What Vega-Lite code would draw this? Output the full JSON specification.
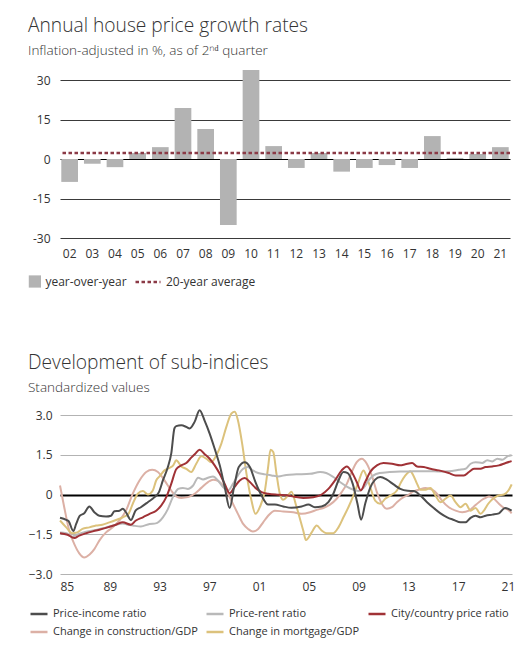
{
  "$schema": "https://vega.github.io/schema/vega-lite/v6.json",
  "background": "white",
  "padding": {"left": 28, "top": 17, "right": 5, "bottom": 5},
  "config": {
    "font": "Open Sans",
    "view": {"stroke": null},
    "axis": {"labelFont": "Open Sans", "labelFontSize": 12, "labelColor": "#333333", "domain": false, "ticks": false, "title": null},
    "legend": {"labelFont": "Open Sans", "labelFontSize": 12, "labelColor": "#333333", "padding": 0},
    "title": {"anchor": "start", "frame": "group", "font": "Open Sans", "fontSize": 19.2, "fontWeight": 300, "color": "#333333", "subtitleFont": "Open Sans", "subtitleFontSize": 13.5, "subtitleFontWeight": 300, "subtitleColor": "#333333", "subtitlePadding": 8, "dx": -32, "offset": 12}
  },
  "datasets": {
    "growth": [
      {"yr": "02", "growth": -8.7, "kind": "year-over-year"},
      {"yr": "03", "growth": -1.8, "kind": "year-over-year"},
      {"yr": "04", "growth": -3.1, "kind": "year-over-year"},
      {"yr": "05", "growth": 2.3, "kind": "year-over-year"},
      {"yr": "06", "growth": 4.5, "kind": "year-over-year"},
      {"yr": "07", "growth": 19.4, "kind": "year-over-year"},
      {"yr": "08", "growth": 11.4, "kind": "year-over-year"},
      {"yr": "09", "growth": -25.1, "kind": "year-over-year"},
      {"yr": "10", "growth": 33.8, "kind": "year-over-year"},
      {"yr": "11", "growth": 4.9, "kind": "year-over-year"},
      {"yr": "12", "growth": -3.4, "kind": "year-over-year"},
      {"yr": "13", "growth": 2.3, "kind": "year-over-year"},
      {"yr": "14", "growth": -4.8, "kind": "year-over-year"},
      {"yr": "15", "growth": -3.4, "kind": "year-over-year"},
      {"yr": "16", "growth": -2.3, "kind": "year-over-year"},
      {"yr": "17", "growth": -3.4, "kind": "year-over-year"},
      {"yr": "18", "growth": 8.7, "kind": "year-over-year"},
      {"yr": "19", "growth": 0.4, "kind": "year-over-year"},
      {"yr": "20", "growth": 1.9, "kind": "year-over-year"},
      {"yr": "21", "growth": 4.5, "kind": "year-over-year"}
    ],
    "avg": [{"kind": "20-year average", "average": 2.3}],
    "subindices": [
      {"series": "Change in construction/GDP", "year": 1985.0, "value": 0.34},
      {"series": "Change in construction/GDP", "year": 1985.34, "value": -0.48},
      {"series": "Change in construction/GDP", "year": 1985.74, "value": -1.36},
      {"series": "Change in construction/GDP", "year": 1986.15, "value": -1.87},
      {"series": "Change in construction/GDP", "year": 1986.55, "value": -2.22},
      {"series": "Change in construction/GDP", "year": 1986.95, "value": -2.38},
      {"series": "Change in construction/GDP", "year": 1987.36, "value": -2.27},
      {"series": "Change in construction/GDP", "year": 1987.76, "value": -2.06},
      {"series": "Change in construction/GDP", "year": 1988.16, "value": -1.74},
      {"series": "Change in construction/GDP", "year": 1988.7, "value": -1.43},
      {"series": "Change in construction/GDP", "year": 1989.24, "value": -1.24},
      {"series": "Change in construction/GDP", "year": 1989.78, "value": -0.98},
      {"series": "Change in construction/GDP", "year": 1990.3, "value": -0.61},
      {"series": "Change in construction/GDP", "year": 1990.85, "value": 0.03},
      {"series": "Change in construction/GDP", "year": 1991.39, "value": 0.53},
      {"series": "Change in construction/GDP", "year": 1991.93, "value": 0.85},
      {"series": "Change in construction/GDP", "year": 1992.41, "value": 0.93},
      {"series": "Change in construction/GDP", "year": 1992.87, "value": 0.85},
      {"series": "Change in construction/GDP", "year": 1993.4, "value": 0.53},
      {"series": "Change in construction/GDP", "year": 1993.94, "value": 0.15},
      {"series": "Change in construction/GDP", "year": 1994.3, "value": -0.06},
      {"series": "Change in construction/GDP", "year": 1994.75, "value": -0.13},
      {"series": "Change in construction/GDP", "year": 1995.28, "value": -0.1},
      {"series": "Change in construction/GDP", "year": 1995.82, "value": 0.03},
      {"series": "Change in construction/GDP", "year": 1996.36, "value": 0.25},
      {"series": "Change in construction/GDP", "year": 1996.9, "value": 0.47},
      {"series": "Change in construction/GDP", "year": 1997.3, "value": 0.56},
      {"series": "Change in construction/GDP", "year": 1997.7, "value": 0.51},
      {"series": "Change in construction/GDP", "year": 1998.1, "value": 0.34},
      {"series": "Change in construction/GDP", "year": 1998.5, "value": 0.03},
      {"series": "Change in construction/GDP", "year": 1998.9, "value": -0.35},
      {"series": "Change in construction/GDP", "year": 1999.3, "value": -0.73},
      {"series": "Change in construction/GDP", "year": 1999.72, "value": -1.11},
      {"series": "Change in construction/GDP", "year": 2000.12, "value": -1.3},
      {"series": "Change in construction/GDP", "year": 2000.5, "value": -1.4},
      {"series": "Change in construction/GDP", "year": 2000.93, "value": -1.3},
      {"series": "Change in construction/GDP", "year": 2001.33, "value": -1.05},
      {"series": "Change in construction/GDP", "year": 2001.73, "value": -0.8},
      {"series": "Change in construction/GDP", "year": 2002.27, "value": -0.61},
      {"series": "Change in construction/GDP", "year": 2002.94, "value": -0.64},
      {"series": "Change in construction/GDP", "year": 2003.75, "value": -0.67},
      {"series": "Change in construction/GDP", "year": 2004.42, "value": -0.73},
      {"series": "Change in construction/GDP", "year": 2005.1, "value": -0.67},
      {"series": "Change in construction/GDP", "year": 2005.63, "value": -0.58},
      {"series": "Change in construction/GDP", "year": 2006.17, "value": -0.51},
      {"series": "Change in construction/GDP", "year": 2006.7, "value": -0.38},
      {"series": "Change in construction/GDP", "year": 2007.24, "value": -0.16},
      {"series": "Change in construction/GDP", "year": 2007.64, "value": 0.09},
      {"series": "Change in construction/GDP", "year": 2008.05, "value": 0.4},
      {"series": "Change in construction/GDP", "year": 2008.45, "value": 0.85},
      {"series": "Change in construction/GDP", "year": 2008.85, "value": 1.22},
      {"series": "Change in construction/GDP", "year": 2009.26, "value": 1.35},
      {"series": "Change in construction/GDP", "year": 2009.66, "value": 1.16},
      {"series": "Change in construction/GDP", "year": 2010.06, "value": 0.72},
      {"series": "Change in construction/GDP", "year": 2010.47, "value": 0.09},
      {"series": "Change in construction/GDP", "year": 2010.87, "value": -0.35},
      {"series": "Change in construction/GDP", "year": 2011.27, "value": -0.54},
      {"series": "Change in construction/GDP", "year": 2011.68, "value": -0.48},
      {"series": "Change in construction/GDP", "year": 2012.08, "value": -0.29},
      {"series": "Change in construction/GDP", "year": 2012.62, "value": -0.1},
      {"series": "Change in construction/GDP", "year": 2013.0, "value": -0.02},
      {"series": "Change in construction/GDP", "year": 2013.3, "value": 0.09},
      {"series": "Change in construction/GDP", "year": 2013.83, "value": 0.18},
      {"series": "Change in construction/GDP", "year": 2014.37, "value": 0.25},
      {"series": "Change in construction/GDP", "year": 2014.9, "value": 0.18},
      {"series": "Change in construction/GDP", "year": 2015.3, "value": 0.03},
      {"series": "Change in construction/GDP", "year": 2015.7, "value": -0.23},
      {"series": "Change in construction/GDP", "year": 2016.25, "value": -0.48},
      {"series": "Change in construction/GDP", "year": 2016.8, "value": -0.61},
      {"series": "Change in construction/GDP", "year": 2017.33, "value": -0.67},
      {"series": "Change in construction/GDP", "year": 2017.87, "value": -0.61},
      {"series": "Change in construction/GDP", "year": 2018.27, "value": -0.45},
      {"series": "Change in construction/GDP", "year": 2018.67, "value": -0.29},
      {"series": "Change in construction/GDP", "year": 2019.07, "value": -0.16},
      {"series": "Change in construction/GDP", "year": 2019.48, "value": -0.08},
      {"series": "Change in construction/GDP", "year": 2019.88, "value": -0.16},
      {"series": "Change in construction/GDP", "year": 2020.28, "value": -0.35},
      {"series": "Change in construction/GDP", "year": 2020.69, "value": -0.51},
      {"series": "Change in construction/GDP", "year": 2021.04, "value": -0.58},
      {"series": "Change in construction/GDP", "year": 2021.3, "value": -0.71},

      {"series": "Change in mortgage/GDP", "year": 1985.0, "value": -0.98},
      {"series": "Change in mortgage/GDP", "year": 1985.5, "value": -1.24},
      {"series": "Change in mortgage/GDP", "year": 1986.0, "value": -1.46},
      {"series": "Change in mortgage/GDP", "year": 1986.4, "value": -1.43},
      {"series": "Change in mortgage/GDP", "year": 1986.8, "value": -1.3},
      {"series": "Change in mortgage/GDP", "year": 1987.36, "value": -1.24},
      {"series": "Change in mortgage/GDP", "year": 1987.9, "value": -1.17},
      {"series": "Change in mortgage/GDP", "year": 1988.4, "value": -1.14},
      {"series": "Change in mortgage/GDP", "year": 1988.97, "value": -1.05},
      {"series": "Change in mortgage/GDP", "year": 1989.5, "value": -0.96},
      {"series": "Change in mortgage/GDP", "year": 1990.05, "value": -0.86},
      {"series": "Change in mortgage/GDP", "year": 1990.5, "value": -0.73},
      {"series": "Change in mortgage/GDP", "year": 1990.85, "value": -0.35},
      {"series": "Change in mortgage/GDP", "year": 1991.25, "value": 0.03},
      {"series": "Change in mortgage/GDP", "year": 1991.66, "value": 0.13},
      {"series": "Change in mortgage/GDP", "year": 1992.06, "value": 0.0},
      {"series": "Change in mortgage/GDP", "year": 1992.46, "value": 0.15},
      {"series": "Change in mortgage/GDP", "year": 1992.73, "value": 0.53},
      {"series": "Change in mortgage/GDP", "year": 1993.0, "value": 0.68},
      {"series": "Change in mortgage/GDP", "year": 1993.4, "value": 0.91},
      {"series": "Change in mortgage/GDP", "year": 1993.8, "value": 1.0},
      {"series": "Change in mortgage/GDP", "year": 1994.1, "value": 1.1},
      {"series": "Change in mortgage/GDP", "year": 1994.34, "value": 1.29},
      {"series": "Change in mortgage/GDP", "year": 1994.75, "value": 1.06},
      {"series": "Change in mortgage/GDP", "year": 1995.15, "value": 0.97},
      {"series": "Change in mortgage/GDP", "year": 1995.55, "value": 0.85},
      {"series": "Change in mortgage/GDP", "year": 1995.95, "value": 1.16},
      {"series": "Change in mortgage/GDP", "year": 1996.36, "value": 1.44},
      {"series": "Change in mortgage/GDP", "year": 1996.76, "value": 1.35},
      {"series": "Change in mortgage/GDP", "year": 1997.16, "value": 1.22},
      {"series": "Change in mortgage/GDP", "year": 1997.57, "value": 1.48},
      {"series": "Change in mortgage/GDP", "year": 1997.97, "value": 1.92},
      {"series": "Change in mortgage/GDP", "year": 1998.37, "value": 2.55},
      {"series": "Change in mortgage/GDP", "year": 1998.78, "value": 3.06},
      {"series": "Change in mortgage/GDP", "year": 1999.05, "value": 3.12},
      {"series": "Change in mortgage/GDP", "year": 1999.3, "value": 2.8},
      {"series": "Change in mortgage/GDP", "year": 1999.64, "value": 1.92},
      {"series": "Change in mortgage/GDP", "year": 1999.99, "value": 0.78},
      {"series": "Change in mortgage/GDP", "year": 2000.39, "value": -0.23},
      {"series": "Change in mortgage/GDP", "year": 2000.71, "value": -0.73},
      {"series": "Change in mortgage/GDP", "year": 2001.06, "value": -0.48},
      {"series": "Change in mortgage/GDP", "year": 2001.47, "value": 0.15},
      {"series": "Change in mortgage/GDP", "year": 2001.73, "value": 1.04},
      {"series": "Change in mortgage/GDP", "year": 2001.92, "value": 1.69},
      {"series": "Change in mortgage/GDP", "year": 2002.14, "value": 1.6},
      {"series": "Change in mortgage/GDP", "year": 2002.4, "value": 0.78},
      {"series": "Change in mortgage/GDP", "year": 2002.67, "value": 0.03},
      {"series": "Change in mortgage/GDP", "year": 2002.94, "value": -0.2},
      {"series": "Change in mortgage/GDP", "year": 2003.3, "value": -0.05},
      {"series": "Change in mortgage/GDP", "year": 2003.6, "value": 0.1},
      {"series": "Change in mortgage/GDP", "year": 2004.0, "value": -0.45},
      {"series": "Change in mortgage/GDP", "year": 2004.55, "value": -1.36},
      {"series": "Change in mortgage/GDP", "year": 2004.77, "value": -1.72},
      {"series": "Change in mortgage/GDP", "year": 2005.23, "value": -1.43},
      {"series": "Change in mortgage/GDP", "year": 2005.63, "value": -1.17},
      {"series": "Change in mortgage/GDP", "year": 2006.03, "value": -1.36},
      {"series": "Change in mortgage/GDP", "year": 2006.43, "value": -1.46},
      {"series": "Change in mortgage/GDP", "year": 2006.97, "value": -1.46},
      {"series": "Change in mortgage/GDP", "year": 2007.38, "value": -1.24},
      {"series": "Change in mortgage/GDP", "year": 2007.78, "value": -0.86},
      {"series": "Change in mortgage/GDP", "year": 2008.18, "value": -0.48},
      {"series": "Change in mortgage/GDP", "year": 2008.58, "value": -0.04},
      {"series": "Change in mortgage/GDP", "year": 2008.99, "value": 0.47},
      {"series": "Change in mortgage/GDP", "year": 2009.39, "value": 0.91},
      {"series": "Change in mortgage/GDP", "year": 2009.66, "value": 0.66},
      {"series": "Change in mortgage/GDP", "year": 2009.98, "value": 0.21},
      {"series": "Change in mortgage/GDP", "year": 2010.33, "value": -0.23},
      {"series": "Change in mortgage/GDP", "year": 2010.74, "value": -0.35},
      {"series": "Change in mortgage/GDP", "year": 2011.14, "value": -0.16},
      {"series": "Change in mortgage/GDP", "year": 2011.54, "value": -0.04},
      {"series": "Change in mortgage/GDP", "year": 2012.08, "value": 0.15},
      {"series": "Change in mortgage/GDP", "year": 2012.4, "value": 0.45},
      {"series": "Change in mortgage/GDP", "year": 2012.76, "value": 0.72},
      {"series": "Change in mortgage/GDP", "year": 2013.16, "value": 0.88},
      {"series": "Change in mortgage/GDP", "year": 2013.4, "value": 0.72},
      {"series": "Change in mortgage/GDP", "year": 2013.7, "value": 0.4},
      {"series": "Change in mortgage/GDP", "year": 2013.97, "value": 0.18},
      {"series": "Change in mortgage/GDP", "year": 2014.37, "value": 0.18},
      {"series": "Change in mortgage/GDP", "year": 2014.77, "value": 0.25},
      {"series": "Change in mortgage/GDP", "year": 2015.18, "value": -0.04},
      {"series": "Change in mortgage/GDP", "year": 2015.58, "value": -0.29},
      {"series": "Change in mortgage/GDP", "year": 2015.98, "value": -0.16},
      {"series": "Change in mortgage/GDP", "year": 2016.39, "value": -0.04},
      {"series": "Change in mortgage/GDP", "year": 2016.79, "value": -0.29},
      {"series": "Change in mortgage/GDP", "year": 2017.19, "value": -0.48},
      {"series": "Change in mortgage/GDP", "year": 2017.6, "value": -0.35},
      {"series": "Change in mortgage/GDP", "year": 2018.0, "value": -0.61},
      {"series": "Change in mortgage/GDP", "year": 2018.4, "value": -0.51},
      {"series": "Change in mortgage/GDP", "year": 2018.8, "value": -0.73},
      {"series": "Change in mortgage/GDP", "year": 2019.07, "value": -0.61},
      {"series": "Change in mortgage/GDP", "year": 2019.42, "value": -0.35},
      {"series": "Change in mortgage/GDP", "year": 2019.8, "value": -0.16},
      {"series": "Change in mortgage/GDP", "year": 2020.23, "value": -0.04},
      {"series": "Change in mortgage/GDP", "year": 2020.69, "value": 0.0},
      {"series": "Change in mortgage/GDP", "year": 2021.04, "value": 0.15},
      {"series": "Change in mortgage/GDP", "year": 2021.3, "value": 0.38},

      {"series": "Price-rent ratio", "year": 1985.0, "value": -1.43},
      {"series": "Price-rent ratio", "year": 1985.5, "value": -1.46},
      {"series": "Price-rent ratio", "year": 1986.0, "value": -1.59},
      {"series": "Price-rent ratio", "year": 1986.3, "value": -1.53},
      {"series": "Price-rent ratio", "year": 1987.1, "value": -1.4},
      {"series": "Price-rent ratio", "year": 1987.9, "value": -1.34},
      {"series": "Price-rent ratio", "year": 1988.7, "value": -1.24},
      {"series": "Price-rent ratio", "year": 1989.5, "value": -1.14},
      {"series": "Price-rent ratio", "year": 1990.05, "value": -1.09},
      {"series": "Price-rent ratio", "year": 1990.45, "value": -1.14},
      {"series": "Price-rent ratio", "year": 1990.85, "value": -1.17},
      {"series": "Price-rent ratio", "year": 1991.5, "value": -1.21},
      {"series": "Price-rent ratio", "year": 1992.2, "value": -1.11},
      {"series": "Price-rent ratio", "year": 1992.7, "value": -1.09},
      {"series": "Price-rent ratio", "year": 1993.27, "value": -0.86},
      {"series": "Price-rent ratio", "year": 1993.67, "value": -0.55},
      {"series": "Price-rent ratio", "year": 1994.07, "value": -0.1},
      {"series": "Price-rent ratio", "year": 1994.5, "value": 0.21},
      {"series": "Price-rent ratio", "year": 1994.88, "value": 0.25},
      {"series": "Price-rent ratio", "year": 1995.28, "value": 0.21},
      {"series": "Price-rent ratio", "year": 1995.7, "value": 0.34},
      {"series": "Price-rent ratio", "year": 1996.1, "value": 0.63},
      {"series": "Price-rent ratio", "year": 1996.5, "value": 0.57},
      {"series": "Price-rent ratio", "year": 1996.9, "value": 0.63},
      {"series": "Price-rent ratio", "year": 1997.3, "value": 0.68},
      {"series": "Price-rent ratio", "year": 1997.7, "value": 0.53},
      {"series": "Price-rent ratio", "year": 1998.1, "value": 0.28},
      {"series": "Price-rent ratio", "year": 1998.5, "value": 0.15},
      {"series": "Price-rent ratio", "year": 1998.9, "value": 0.4},
      {"series": "Price-rent ratio", "year": 1999.3, "value": 0.72},
      {"series": "Price-rent ratio", "year": 1999.72, "value": 0.97},
      {"series": "Price-rent ratio", "year": 2000.1, "value": 1.04},
      {"series": "Price-rent ratio", "year": 2000.5, "value": 0.91},
      {"series": "Price-rent ratio", "year": 2000.93, "value": 0.81},
      {"series": "Price-rent ratio", "year": 2001.47, "value": 0.76},
      {"series": "Price-rent ratio", "year": 2002.0, "value": 0.72},
      {"series": "Price-rent ratio", "year": 2002.54, "value": 0.68},
      {"series": "Price-rent ratio", "year": 2003.2, "value": 0.74},
      {"series": "Price-rent ratio", "year": 2004.0, "value": 0.76},
      {"series": "Price-rent ratio", "year": 2005.1, "value": 0.78},
      {"series": "Price-rent ratio", "year": 2005.9, "value": 0.85},
      {"series": "Price-rent ratio", "year": 2006.4, "value": 0.81},
      {"series": "Price-rent ratio", "year": 2006.97, "value": 0.66},
      {"series": "Price-rent ratio", "year": 2007.5, "value": 0.47},
      {"series": "Price-rent ratio", "year": 2008.05, "value": 0.3},
      {"series": "Price-rent ratio", "year": 2008.6, "value": 0.18},
      {"series": "Price-rent ratio", "year": 2009.0, "value": 0.13},
      {"series": "Price-rent ratio", "year": 2009.4, "value": 0.25},
      {"series": "Price-rent ratio", "year": 2009.8, "value": 0.53},
      {"series": "Price-rent ratio", "year": 2010.2, "value": 0.72},
      {"series": "Price-rent ratio", "year": 2010.7, "value": 0.81},
      {"series": "Price-rent ratio", "year": 2011.5, "value": 0.85},
      {"series": "Price-rent ratio", "year": 2012.35, "value": 0.87},
      {"series": "Price-rent ratio", "year": 2013.0, "value": 0.87},
      {"series": "Price-rent ratio", "year": 2013.8, "value": 0.88},
      {"series": "Price-rent ratio", "year": 2014.64, "value": 0.88},
      {"series": "Price-rent ratio", "year": 2015.45, "value": 0.87},
      {"series": "Price-rent ratio", "year": 2016.25, "value": 0.88},
      {"series": "Price-rent ratio", "year": 2017.06, "value": 0.93},
      {"series": "Price-rent ratio", "year": 2017.6, "value": 0.97},
      {"series": "Price-rent ratio", "year": 2018.0, "value": 1.16},
      {"series": "Price-rent ratio", "year": 2018.4, "value": 1.22},
      {"series": "Price-rent ratio", "year": 2018.94, "value": 1.19},
      {"series": "Price-rent ratio", "year": 2019.34, "value": 1.29},
      {"series": "Price-rent ratio", "year": 2019.75, "value": 1.25},
      {"series": "Price-rent ratio", "year": 2020.15, "value": 1.35},
      {"series": "Price-rent ratio", "year": 2020.55, "value": 1.31},
      {"series": "Price-rent ratio", "year": 2020.96, "value": 1.44},
      {"series": "Price-rent ratio", "year": 2021.3, "value": 1.48},

      {"series": "City/country price ratio", "year": 1985.0, "value": -1.46},
      {"series": "City/country price ratio", "year": 1985.6, "value": -1.52},
      {"series": "City/country price ratio", "year": 1986.15, "value": -1.64},
      {"series": "City/country price ratio", "year": 1986.55, "value": -1.55},
      {"series": "City/country price ratio", "year": 1987.1, "value": -1.46},
      {"series": "City/country price ratio", "year": 1987.9, "value": -1.36},
      {"series": "City/country price ratio", "year": 1988.7, "value": -1.26},
      {"series": "City/country price ratio", "year": 1989.5, "value": -1.14},
      {"series": "City/country price ratio", "year": 1990.05, "value": -1.05},
      {"series": "City/country price ratio", "year": 1990.7, "value": -1.14},
      {"series": "City/country price ratio", "year": 1991.1, "value": -0.98},
      {"series": "City/country price ratio", "year": 1991.66, "value": -0.86},
      {"series": "City/country price ratio", "year": 1992.2, "value": -0.73},
      {"series": "City/country price ratio", "year": 1992.73, "value": -0.61},
      {"series": "City/country price ratio", "year": 1993.13, "value": -0.42},
      {"series": "City/country price ratio", "year": 1993.54, "value": -0.1},
      {"series": "City/country price ratio", "year": 1993.94, "value": 0.4},
      {"series": "City/country price ratio", "year": 1994.34, "value": 0.95},
      {"series": "City/country price ratio", "year": 1994.75, "value": 1.1},
      {"series": "City/country price ratio", "year": 1995.15, "value": 1.19},
      {"series": "City/country price ratio", "year": 1995.55, "value": 1.39},
      {"series": "City/country price ratio", "year": 1995.87, "value": 1.54},
      {"series": "City/country price ratio", "year": 1996.22, "value": 1.69},
      {"series": "City/country price ratio", "year": 1996.63, "value": 1.52},
      {"series": "City/country price ratio", "year": 1997.03, "value": 1.35},
      {"series": "City/country price ratio", "year": 1997.43, "value": 1.1},
      {"series": "City/country price ratio", "year": 1997.84, "value": 0.78},
      {"series": "City/country price ratio", "year": 1998.24, "value": 0.4},
      {"series": "City/country price ratio", "year": 1998.64, "value": 0.05},
      {"series": "City/country price ratio", "year": 1999.05, "value": 0.3},
      {"series": "City/country price ratio", "year": 1999.45, "value": 0.53},
      {"series": "City/country price ratio", "year": 1999.85, "value": 0.62},
      {"series": "City/country price ratio", "year": 2000.26, "value": 0.47},
      {"series": "City/country price ratio", "year": 2000.71, "value": 0.25},
      {"series": "City/country price ratio", "year": 2001.2, "value": 0.09},
      {"series": "City/country price ratio", "year": 2001.73, "value": 0.03},
      {"series": "City/country price ratio", "year": 2002.54, "value": -0.01},
      {"series": "City/country price ratio", "year": 2003.35, "value": -0.04},
      {"series": "City/country price ratio", "year": 2003.75, "value": -0.08},
      {"series": "City/country price ratio", "year": 2004.55, "value": -0.13},
      {"series": "City/country price ratio", "year": 2005.36, "value": -0.1},
      {"series": "City/country price ratio", "year": 2006.03, "value": 0.0},
      {"series": "City/country price ratio", "year": 2006.57, "value": 0.21},
      {"series": "City/country price ratio", "year": 2007.1, "value": 0.53},
      {"series": "City/country price ratio", "year": 2007.64, "value": 0.91},
      {"series": "City/country price ratio", "year": 2008.05, "value": 1.06},
      {"series": "City/country price ratio", "year": 2008.45, "value": 0.85},
      {"series": "City/country price ratio", "year": 2008.85, "value": 0.47},
      {"series": "City/country price ratio", "year": 2009.18, "value": 0.15},
      {"series": "City/country price ratio", "year": 2009.53, "value": 0.47},
      {"series": "City/country price ratio", "year": 2009.93, "value": 0.85},
      {"series": "City/country price ratio", "year": 2010.47, "value": 1.1},
      {"series": "City/country price ratio", "year": 2011.0, "value": 1.19},
      {"series": "City/country price ratio", "year": 2011.68, "value": 1.16},
      {"series": "City/country price ratio", "year": 2012.35, "value": 1.1},
      {"series": "City/country price ratio", "year": 2012.76, "value": 1.14},
      {"series": "City/country price ratio", "year": 2013.3, "value": 1.19},
      {"series": "City/country price ratio", "year": 2013.7, "value": 1.06},
      {"series": "City/country price ratio", "year": 2014.24, "value": 1.04},
      {"series": "City/country price ratio", "year": 2014.77, "value": 0.97},
      {"series": "City/country price ratio", "year": 2015.45, "value": 0.91},
      {"series": "City/country price ratio", "year": 2016.25, "value": 0.81},
      {"series": "City/country price ratio", "year": 2016.8, "value": 0.72},
      {"series": "City/country price ratio", "year": 2017.46, "value": 0.72},
      {"series": "City/country price ratio", "year": 2017.87, "value": 0.85},
      {"series": "City/country price ratio", "year": 2018.27, "value": 0.97},
      {"series": "City/country price ratio", "year": 2018.8, "value": 0.97},
      {"series": "City/country price ratio", "year": 2019.2, "value": 1.04},
      {"series": "City/country price ratio", "year": 2019.75, "value": 1.06},
      {"series": "City/country price ratio", "year": 2020.28, "value": 1.1},
      {"series": "City/country price ratio", "year": 2020.82, "value": 1.19},
      {"series": "City/country price ratio", "year": 2021.3, "value": 1.26},

      {"series": "Price-income ratio", "year": 1985.0, "value": -0.88},
      {"series": "Price-income ratio", "year": 1985.5, "value": -0.96},
      {"series": "Price-income ratio", "year": 1985.7, "value": -1.01},
      {"series": "Price-income ratio", "year": 1986.07, "value": -1.38},
      {"series": "Price-income ratio", "year": 1986.3, "value": -1.11},
      {"series": "Price-income ratio", "year": 1986.6, "value": -0.8},
      {"series": "Price-income ratio", "year": 1986.95, "value": -0.71},
      {"series": "Price-income ratio", "year": 1987.36, "value": -0.45},
      {"series": "Price-income ratio", "year": 1987.76, "value": -0.67},
      {"series": "Price-income ratio", "year": 1988.16, "value": -0.8},
      {"series": "Price-income ratio", "year": 1988.7, "value": -0.83},
      {"series": "Price-income ratio", "year": 1989.1, "value": -0.8},
      {"series": "Price-income ratio", "year": 1989.37, "value": -0.63},
      {"series": "Price-income ratio", "year": 1989.78, "value": -0.61},
      {"series": "Price-income ratio", "year": 1990.05, "value": -0.54},
      {"series": "Price-income ratio", "year": 1990.3, "value": -0.67},
      {"series": "Price-income ratio", "year": 1990.7, "value": -0.96},
      {"series": "Price-income ratio", "year": 1991.07, "value": -0.61},
      {"series": "Price-income ratio", "year": 1991.5, "value": -0.48},
      {"series": "Price-income ratio", "year": 1992.06, "value": -0.29},
      {"series": "Price-income ratio", "year": 1992.6, "value": -0.1},
      {"series": "Price-income ratio", "year": 1992.95, "value": 0.09},
      {"series": "Price-income ratio", "year": 1993.27, "value": 0.53},
      {"series": "Price-income ratio", "year": 1993.67, "value": 1.04},
      {"series": "Price-income ratio", "year": 1993.94, "value": 1.54},
      {"series": "Price-income ratio", "year": 1994.2, "value": 2.5},
      {"series": "Price-income ratio", "year": 1994.34, "value": 2.58},
      {"series": "Price-income ratio", "year": 1994.75, "value": 2.61},
      {"series": "Price-income ratio", "year": 1995.15, "value": 2.55},
      {"series": "Price-income ratio", "year": 1995.42, "value": 2.49},
      {"series": "Price-income ratio", "year": 1995.82, "value": 2.74},
      {"series": "Price-income ratio", "year": 1996.22, "value": 3.18},
      {"series": "Price-income ratio", "year": 1996.63, "value": 2.78},
      {"series": "Price-income ratio", "year": 1997.03, "value": 2.3},
      {"series": "Price-income ratio", "year": 1997.43, "value": 1.73},
      {"series": "Price-income ratio", "year": 1997.84, "value": 1.1},
      {"series": "Price-income ratio", "year": 1998.24, "value": 0.28},
      {"series": "Price-income ratio", "year": 1998.64, "value": -0.51},
      {"series": "Price-income ratio", "year": 1998.99, "value": 0.28},
      {"series": "Price-income ratio", "year": 1999.37, "value": 1.04},
      {"series": "Price-income ratio", "year": 1999.85, "value": 1.22},
      {"series": "Price-income ratio", "year": 2000.26, "value": 1.04},
      {"series": "Price-income ratio", "year": 2000.71, "value": 0.47},
      {"series": "Price-income ratio", "year": 2001.2, "value": -0.04},
      {"series": "Price-income ratio", "year": 2001.73, "value": -0.38},
      {"series": "Price-income ratio", "year": 2002.27, "value": -0.38},
      {"series": "Price-income ratio", "year": 2002.94, "value": -0.45},
      {"series": "Price-income ratio", "year": 2003.6, "value": -0.5},
      {"series": "Price-income ratio", "year": 2004.42, "value": -0.45},
      {"series": "Price-income ratio", "year": 2004.96, "value": -0.38},
      {"series": "Price-income ratio", "year": 2005.49, "value": -0.48},
      {"series": "Price-income ratio", "year": 2006.03, "value": -0.45},
      {"series": "Price-income ratio", "year": 2006.57, "value": -0.29},
      {"series": "Price-income ratio", "year": 2006.97, "value": 0.03},
      {"series": "Price-income ratio", "year": 2007.38, "value": 0.53},
      {"series": "Price-income ratio", "year": 2007.78, "value": 0.85},
      {"series": "Price-income ratio", "year": 2008.13, "value": 0.81},
      {"series": "Price-income ratio", "year": 2008.53, "value": 0.4},
      {"series": "Price-income ratio", "year": 2008.91, "value": -0.35},
      {"series": "Price-income ratio", "year": 2009.2, "value": -0.95},
      {"series": "Price-income ratio", "year": 2009.53, "value": -0.35},
      {"series": "Price-income ratio", "year": 2009.93, "value": 0.25},
      {"series": "Price-income ratio", "year": 2010.33, "value": 0.56},
      {"series": "Price-income ratio", "year": 2010.74, "value": 0.66},
      {"series": "Price-income ratio", "year": 2011.27, "value": 0.56},
      {"series": "Price-income ratio", "year": 2011.81, "value": 0.38},
      {"series": "Price-income ratio", "year": 2012.35, "value": 0.21},
      {"series": "Price-income ratio", "year": 2012.94, "value": 0.14},
      {"series": "Price-income ratio", "year": 2013.43, "value": 0.13},
      {"series": "Price-income ratio", "year": 2013.97, "value": -0.04},
      {"series": "Price-income ratio", "year": 2014.5, "value": -0.29},
      {"series": "Price-income ratio", "year": 2015.04, "value": -0.51},
      {"series": "Price-income ratio", "year": 2015.58, "value": -0.71},
      {"series": "Price-income ratio", "year": 2016.12, "value": -0.86},
      {"series": "Price-income ratio", "year": 2016.66, "value": -0.96},
      {"series": "Price-income ratio", "year": 2017.19, "value": -1.05},
      {"series": "Price-income ratio", "year": 2017.6, "value": -1.05},
      {"series": "Price-income ratio", "year": 2018.0, "value": -0.88},
      {"series": "Price-income ratio", "year": 2018.4, "value": -0.8},
      {"series": "Price-income ratio", "year": 2018.8, "value": -0.86},
      {"series": "Price-income ratio", "year": 2019.21, "value": -0.8},
      {"series": "Price-income ratio", "year": 2019.75, "value": -0.76},
      {"series": "Price-income ratio", "year": 2020.28, "value": -0.71},
      {"series": "Price-income ratio", "year": 2020.77, "value": -0.51},
      {"series": "Price-income ratio", "year": 2021.04, "value": -0.54},
      {"series": "Price-income ratio", "year": 2021.3, "value": -0.61}
    ]
  },
  "spacing": 65,
  "resolve": {"scale": {"color": "independent"}, "legend": {"color": "independent"}},
  "vconcat": [
    {
      "width": 450,
      "height": 158,
      "title": {"text": "Annual house price growth rates", "subtitle": "Inflation-adjusted in %, as of 2ⁿᵈ quarter"},
      "layer": [
        {
          "data": {"name": "growth"},
          "mark": {"type": "bar", "clip": false},
          "encoding": {
            "x": {"field": "yr", "type": "ordinal", "sort": null, "scale": {"paddingInner": 0.264, "paddingOuter": 0.057},
                  "axis": {"labelAngle": 0, "labelPadding": 10, "grid": false}},
            "y": {"field": "growth", "type": "quantitative", "scale": {"domain": [-30, 30], "nice": false},
                  "axis": {"values": [-30, -15, 0, 15, 30], "grid": true,
                           "gridColor": {"condition": {"test": "datum.value === 0", "value": "#000000"}, "value": "#3a3a3a"},
                           "gridWidth": 1.2, "labelPadding": 10,
                           "labelExpr": "replace(datum.label, '−', '-')"}},
            "color": {"field": "kind", "type": "nominal", "scale": {"range": ["#b3b3b3"]},
                      "legend": {"orient": "none", "legendX": -31.6, "legendY": 195, "title": null, "symbolType": "square",
                                 "symbolSize": 150, "symbolStrokeWidth": 0, "labelOffset": 4, "labelFontSize": 12}}
          }
        },
        {
          "data": {"name": "avg"},
          "mark": {"type": "rule", "strokeWidth": 2.4, "color": "#8b3a46"},
          "encoding": {
            "y": {"field": "average", "type": "quantitative", "scale": {"domain": [-30, 30], "nice": false},
                  "axis": {"values": [-30, -15, 0, 15, 30], "grid": true,
                           "gridColor": {"condition": {"test": "datum.value === 0", "value": "#000000"}, "value": "#3a3a3a"},
                           "gridWidth": 1.2, "labelPadding": 10,
                           "labelExpr": "replace(datum.label, '−', '-')"}},
            "strokeDash": {"field": "kind", "type": "nominal", "scale": {"range": [[3.5, 2.5]]},
                           "legend": {"orient": "none", "legendX": 74, "legendY": 188, "title": null, "symbolType": "stroke",
                                      "symbolSize": 625, "symbolStrokeColor": "#8b3a46", "symbolStrokeWidth": 2.4,
                                      "labelOffset": 4, "labelFontSize": 12}}
          }
        }
      ]
    },
    {
      "width": 452,
      "height": 159,
      "title": {"text": "Development of sub-indices", "subtitle": "Standardized values"},
      "data": {"name": "subindices"},
      "mark": {"type": "line", "strokeWidth": 2, "interpolate": "monotone"},
      "encoding": {
        "x": {"field": "year", "type": "quantitative", "scale": {"domain": [1985, 2021.33], "nice": false, "zero": false},
              "axis": {"values": [1985, 1989, 1993, 1997, 2001, 2005, 2009, 2013, 2017, 2021], "grid": false,
                       "labelExpr": "format(datum.value % 100, '02d')", "labelPadding": 7}},
        "y": {"field": "value", "type": "quantitative", "scale": {"domain": [-3, 3], "nice": false},
              "axis": {"values": [-3, -1.5, 0, 1.5, 3], "grid": true,
                       "labelExpr": "datum.value === 0 ? '0' : format(datum.value, '.1f')",
                       "gridColor": {"condition": {"test": "datum.value === 0", "value": "#000000"}, "value": "#b3b3b3"},
                       "gridWidth": {"condition": {"test": "datum.value === 0", "value": 2}, "value": 1.2},
                       "labelPadding": 8}},
        "color": {"field": "series", "type": "nominal",
                  "scale": {"domain": ["Price-income ratio", "Price-rent ratio", "City/country price ratio", "Change in construction/GDP", "Change in mortgage/GDP"],
                            "range": ["#4d4d4d", "#b9b9b9", "#a03236", "#dcb0a5", "#dcc27c"]},
                  "legend": {"orient": "none", "legendX": -31, "legendY": 189, "title": null, "columns": 3, "direction": "horizontal",
                             "symbolType": "stroke", "symbolSize": 289, "symbolStrokeWidth": 2.5,
                             "labelFontSize": 11, "labelOffset": 4, "columnPadding": 3, "rowPadding": 3, "labelLimit": 300}}
      }
    }
  ]
}
